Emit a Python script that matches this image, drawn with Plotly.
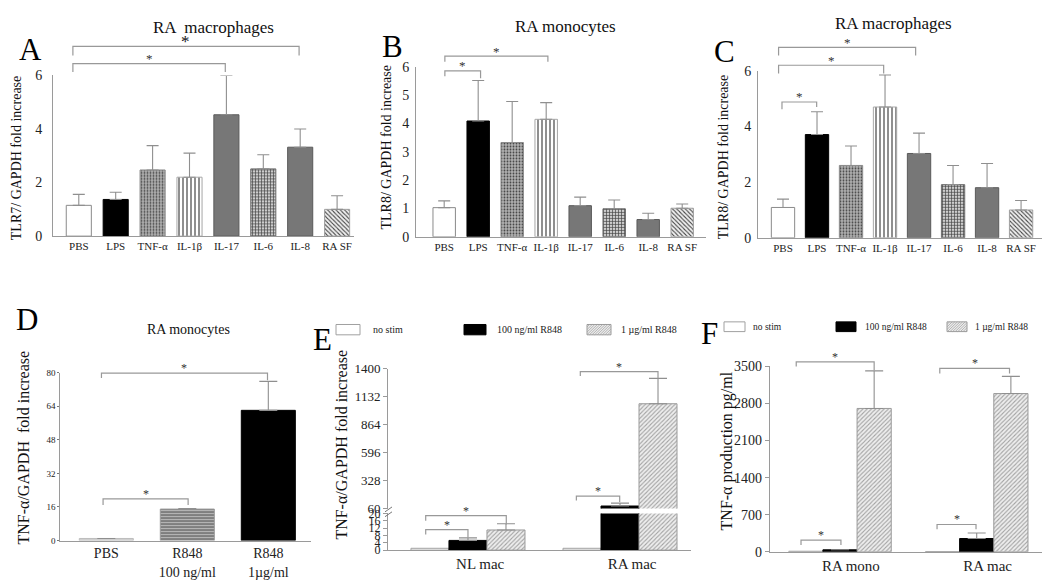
import plotly.graph_objects as go
import numpy as np

W, H = 1050, 581
SERIF = "Liberation Serif, Times New Roman, serif"
AX = "#9a9a9a"

# ---------------- data ----------------
stim_labels = ["PBS", "LPS", "TNF-α", "IL-1β", "IL-17", "IL-6", "IL-8", "RA SF"]
a_tlr7_mac = [1.15, 1.37, 2.47, 2.20, 4.53, 2.51, 3.32, 1.00]
a_tlr7_mac_err = [0.41, 0.27, 0.91, 0.90, 1.47, 0.53, 0.68, 0.51]
b_tlr8_mono = [1.03, 4.09, 3.33, 4.15, 1.10, 0.99, 0.61, 1.01]
b_tlr8_mono_err = [0.24, 1.43, 1.45, 0.59, 0.30, 0.31, 0.22, 0.15]
c_tlr8_mac = [1.09, 3.71, 2.60, 4.70, 3.03, 1.91, 1.80, 1.00]
c_tlr8_mac_err = [0.30, 0.82, 0.70, 1.15, 0.73, 0.69, 0.87, 0.34]

d_labels = ["PBS", "R848<br>100 ng/ml", "R848<br>1µg/ml"]
d_tnf_mono = [1.0, 15.0, 62.0]
d_tnf_mono_err = [0.0, 0.3, 13.8]

series_names = ["no stim", "100 ng/ml R848", "1 µg/ml R848"]
e_groups = ["NL mac", "RA mac"]
e_nostim = [1.0, 1.0]
e_r848_100 = [5.3, 85.0]
e_r848_100_err = [1.4, 28.0]
e_r848_1 = [11.0, 1066.0]
e_r848_1_err = [3.4, 243.0]

f_groups = ["RA mono", "RA mac"]
f_nostim = [10.0, 5.0]
f_r848_100 = [37.0, 250.0]
f_r848_100_err = [0.0, 104.0]
f_r848_1 = [2706.0, 2987.0]
f_r848_1_err = [709.0, 324.0]

a_ticks = [0, 2, 4, 6]
b_ticks = [0, 1, 2, 3, 4, 5, 6]
c_ticks = [0, 2, 4, 6]
d_ticks = [0, 16, 32, 48, 64, 80]
e_low_ticks = [0, 4, 8, 12, 16, 20]
e_up_ticks = [60, 328, 596, 864, 1132, 1400]
f_ticks = [0, 700, 1400, 2100, 2800, 3500]

# ---------------- panel geometry (pixels) ----------------
P = {
    "A": dict(px=(45, 346), py=(62, 227), xr=(-0.699, 7.458), yr=(0, 6)),
    "B": dict(px=(408, 698), py=(53.3, 227.7), xr=(-0.829, 7.70), yr=(0, 6)),
    "C": dict(px=(750, 1043), py=(57.3, 228.7), xr=(-0.735, 7.88), yr=(0, 6)),
    "D": dict(px=(52.3, 303), py=(367, 539.5), xr=(-0.568, 2.527), yr=(0, 80)),
    "EL": dict(px=(380, 683), py=(511.7, 549.3), xr=(-0.526, 1.467), yr=(0, 20)),
    "EU": dict(px=(380, 683), py=(363.3, 506.7), xr=(-0.526, 1.467), yr=(60, 1400)),
    "F": dict(px=(761.7, 1048), py=(360.7, 551), xr=(-0.514, 1.58), yr=(0, 3500)),
}


def to_paper(p, x, y):
    g = P[p]
    (L, R), (T, B) = g["px"], g["py"]
    x0, x1 = g["xr"]
    y0, y1 = g["yr"]
    fx = (L + (x - x0) / (x1 - x0) * (R - L)) / W
    fy = 1 - (B - (y - y0) / (y1 - y0) * (B - T)) / H
    return fx, fy


def dom_x(p):
    L, R = P[p]["px"]
    return [L / W, R / W]


def dom_y(p):
    T, B = P[p]["py"]
    return [1 - B / H, 1 - T / H]


fig = go.Figure()

# --------- A, B, C bars ---------
abc_color = ["white", "black", "#b0b0b0", "white", "#777777", "#cccccc", "#777777", "#f0f0f0"]
abc_shape = ["", "", ".", "|", "", "+", "", "\\"]
abc_fg = ["#999", "#000", "#969696", "#b4b4b4", "#777", "#707070", "#777", "#a4a4a4"]
abc_line = ["#8a8a8a", "#000", "#8a8a8a", "#a8a8a8", "#5a5a5a", "#6a6a6a", "#5a5a5a", "#a0a0a0"]
abc_psize = [4, 4, 3, 4, 4, 3, 4, 3]
abc_sol = [0.3, 0.3, 0.3, 0.3, 0.3, 0.4, 0.3, 0.35]

err_style = dict(type="data", symmetric=False, color="#8f8f8f", thickness=1.1, width=6)

for vals, errs, xa, ya, bw in [
    (a_tlr7_mac, a_tlr7_mac_err, "x", "y", 0.68),
    (b_tlr8_mono, b_tlr8_mono_err, "x2", "y2", 0.66),
    (c_tlr8_mac, c_tlr8_mac_err, "x3", "y3", 0.686),
]:
    fig.add_trace(go.Bar(
        x=list(range(len(stim_labels))), y=vals, width=bw, xaxis=xa, yaxis=ya,
        marker=dict(color=abc_color, line=dict(color=abc_line, width=1),
                    pattern=dict(shape=abc_shape, fgcolor=abc_fg, fgopacity=1,
                                 size=abc_psize, solidity=abc_sol, fillmode="overlay")),
        error_y=dict(array=errs, arrayminus=[0] * len(errs), **err_style),
        showlegend=False, hoverinfo="skip",
    ))

# --------- D bars ---------
fig.add_trace(go.Bar(
    x=list(range(len(d_labels))), y=d_tnf_mono, width=0.667, xaxis="x4", yaxis="y4",
    marker=dict(color=["#cfcfcf", "#b3b3b3", "black"],
                line=dict(color=["#bdbdbd", "#9a9a9a", "#000"], width=1),
                pattern=dict(shape=["", "-", ""], fgcolor=["#ccc", "#a2a2a2", "#000"],
                             fgopacity=1, size=3, solidity=0.3, fillmode="overlay")),
    error_y=dict(array=d_tnf_mono_err, arrayminus=[0, 0, 0], type="data", symmetric=False,
                 color="#8f8f8f", thickness=1.1, width=9),
    showlegend=False, hoverinfo="skip",
))

# --------- E and F grouped bars ---------
grp_color = ["white", "black", "#eeeeee"]
grp_line = ["#a0a0a0", "#000", "#9a9a9a"]
grp_shape = ["", "", "/"]
bar_w = 0.25


def grouped(groups, series, errs, xa, ya):
    for k, (vals, err) in enumerate(zip(series, errs)):
        fig.add_trace(go.Bar(
            x=list(range(len(groups))), y=vals, width=bar_w, offset=-1.5 * bar_w + k * bar_w,
            xaxis=xa, yaxis=ya,
            marker=dict(color=grp_color[k], line=dict(color=grp_line[k], width=1),
                        pattern=dict(shape=grp_shape[k], fgcolor="#a2a2a2", fgopacity=1,
                                     size=3, solidity=0.35, fillmode="overlay")),
            error_y=(dict(array=err, arrayminus=[0] * len(err), type="data", symmetric=False,
                          color="#8f8f8f", thickness=1.1, width=9) if err is not None else None),
            showlegend=False, hoverinfo="skip",
        ))


e_series = [e_nostim, e_r848_100, e_r848_1]
e_errs = [None, e_r848_100_err, e_r848_1_err]
grouped(e_groups, e_series, e_errs, "x5", "y5")
grouped(e_groups, e_series, e_errs, "x5", "y6")
f_series = [f_nostim, f_r848_100, f_r848_1]
f_errs = [None, f_r848_100_err, f_r848_1_err]
grouped(f_groups, f_series, f_errs, "x6", "y7")

# --------- axes ---------
base = dict(showgrid=False, zeroline=False, linecolor=AX, linewidth=1, fixedrange=True)


def xax(p, anchor, tickvals, ticktext, size, **kw):
    d = dict(base, domain=dom_x(p), range=list(P[p]["xr"]), anchor=anchor, showline=True,
             tickmode="array", tickvals=tickvals, ticktext=ticktext,
             tickfont=dict(family=SERIF, size=size, color="#222"))
    d.update(kw)
    return d


def yax(p, anchor, tickvals, size, **kw):
    d = dict(base, domain=dom_y(p), range=list(P[p]["yr"]), anchor=anchor, showline=True,
             tickmode="array", tickvals=tickvals,
             tickfont=dict(family=SERIF, size=size, color="#222"))
    d.update(kw)
    return d


n = len(stim_labels)
label_shift = 0.08
layout_axes = dict(
    xaxis=xax("A", "y", list(range(n)), stim_labels, 11, ticks=""),
    yaxis=yax("A", "x", a_ticks, 14, ticks="", ticklabelstandoff=7),
    xaxis2=xax("B", "y2", list(range(n)), stim_labels, 11, ticks=""),
    yaxis2=yax("B", "x2", b_ticks, 14, ticks="", ticklabelstandoff=3),
    xaxis3=xax("C", "y3", list(range(n)), stim_labels, 11, ticks=""),
    yaxis3=yax("C", "x3", c_ticks, 14, ticks="", ticklabelstandoff=3),
    xaxis4=xax("D", "y4", list(range(len(d_labels))), d_labels, 14, ticks=""),
    yaxis4=yax("D", "x4", d_ticks, 9, ticks="outside", ticklen=2, tickcolor="#777"),
    xaxis5=xax("EL", "y5", [i + label_shift for i in range(len(e_groups))], e_groups, 15,
               ticks=""),
    yaxis5=yax("EL", "x5", e_low_ticks, 12, ticks="outside", ticklen=4, tickcolor=AX),
    yaxis6=yax("EU", "x5", e_up_ticks, 13, ticks="outside", ticklen=4, tickcolor=AX),
    xaxis6=xax("F", "y7", [i + label_shift for i in range(len(f_groups))], f_groups, 15,
               ticks=""),
    yaxis7=yax("F", "x6", f_ticks, 14, ticks="outside", ticklen=4, tickcolor=AX,
               ticklabelstandoff=0),
)

shapes = []
annotations = []

# --------- significance brackets (data units) ---------
brackets = [
    ("A", -0.16, 5.97, 7.08, 6.74, 6.74, 17, "#111"),
    ("A", -0.16, 3.97, 6.44, 6.13, 6.13, 13, "#333"),
    ("B", 0.02, 3.05, 6.38, 6.18, 6.18, 13, "#333"),
    ("B", 0.02, 1.07, 5.86, 5.67, 5.60, 13, "#333"),
    ("C", -0.13, 3.90, 6.84, 6.55, 6.55, 13, "#333"),
    ("C", -0.13, 2.96, 6.20, 5.90, 5.90, 13, "#333"),
    ("C", -0.03, 0.99, 4.88, 4.62, 4.70, 13, "#333"),
    ("D", -0.06, 1.99, 79.7, 77.4, 76.3, 12, "#333"),
    ("D", -0.04, 1.01, 19.85, 16.9, 16.9, 12, "#333"),
    ("EL", -0.278, 0.252, 18.8, 16.0, 14.0, 12, "#333"),
    ("EL", -0.278, 0.0, 11.2, 8.5, 6.7, 12, "#333"),
    ("EU", 0.739, 1.25, 1375, 1331, 1307, 12, "#333"),
    ("EU", 0.713, 0.998, 179, 138, 123, 12, "#333"),
    ("F", -0.32, 0.25, 3586, 3500, 3421, 12, "#333"),
    ("F", -0.285, 0.007, 221, 129, 129, 12, "#333"),
    ("F", 0.73, 1.24, 3463, 3366, 3366, 12, "#333"),
    ("F", 0.71, 0.995, 515, 423, 423, 12, "#333"),
]
for p, x0, x1, yt, yl, yr, fs, sc in brackets:
    ax0, ayl = to_paper(p, x0, yl)
    _, ayt = to_paper(p, x0, yt)
    ax1, ayr = to_paper(p, x1, yr)
    shapes.append(dict(type="path", xref="paper", yref="paper",
                       path=f"M{ax0},{ayl} L{ax0},{ayt} L{ax1},{ayt} L{ax1},{ayr}",
                       line=dict(color="#999999", width=1.2)))
    annotations.append(dict(xref="paper", yref="paper", x=(ax0 + ax1) / 2, y=ayt,
                            text="*", showarrow=False, font=dict(family=SERIF, size=fs, color=sc),
                            xanchor="center", yanchor="middle", yshift=5))

# --------- axis break marks on E ---------
for py in (507.5, 512.5):
    shapes.append(dict(type="line", xref="paper", yref="paper",
                       x0=(P["EL"]["px"][0] - 3) / W, y0=1 - (py + 2.5) / H,
                       x1=(P["EL"]["px"][0] + 4) / W, y1=1 - (py - 2.5) / H,
                       line=dict(color="#777", width=1)))


# --------- helper for text in pixel coords ---------
def txt(x, y, s, size, color="#111", angle=0, xanchor="center", yanchor="middle"):
    annotations.append(dict(xref="paper", yref="paper", x=x / W, y=1 - y / H, text=s,
                            showarrow=False, textangle=angle, xanchor=xanchor, yanchor=yanchor,
                            font=dict(family=SERIF, size=size, color=color)))


# panel letters
for s, x, y in [("A", 22, 35), ("B", 384, 32), ("C", 716, 37), ("D", 19, 313),
                ("E", 314, 333), ("F", 701, 327)]:
    txt(x, y, s, 31, "#000")

# titles
txt(205, 13, "RA  macrophages", 17, "#111")
txt(557, 12, "RA monocytes", 17, "#111")
txt(885, 9, "RA macrophages", 17, "#111")
txt(180, 323, "RA monocytes", 14, "#111")

# y titles
txt(8, 147, "TLR7/ GAPDH fold increase", 14, "#111", angle=-90)
txt(378, 136, "TLR8/ GAPDH fold increase", 14, "#111", angle=-90)
txt(715, 146, "TLR8/ GAPDH fold increase", 14, "#111", angle=-90)
txt(16, 444, "TNF-α/GAPDH  fold increase", 16, "#111", angle=-90)
txt(334, 441, "TNF-α/GAPDH fold increase", 16, "#111", angle=-90)
txt(719, 448, "TNF-α production pg/ml", 16, "#111", angle=-90)


# --------- manual legends ---------
def hatch_box(x0, y0, x1, y1, step=2.6):
    shapes.append(dict(type="rect", xref="paper", yref="paper", x0=x0 / W, x1=x1 / W,
                       y0=1 - y1 / H, y1=1 - y0 / H, fillcolor="#ececec",
                       line=dict(color="#9a9a9a", width=1)))
    h = y1 - y0
    c = -h
    while c < (x1 - x0):
        sx, sy = x0 + c, y1
        ex, ey = x0 + c + h, y0
        if sx < x0:
            sy = y1 - (x0 - sx)
            sx = x0
        if ex > x1:
            ey = y0 + (ex - x1)
            ex = x1
        if ex > sx:
            shapes.append(dict(type="line", xref="paper", yref="paper", x0=sx / W, y0=1 - sy / H,
                               x1=ex / W, y1=1 - ey / H, line=dict(color="#a4a4a4", width=0.8)))
        c += step


def legend(items, y0, y1, fs):
    for (bx0, bx1, tx), name, k in zip(items, series_names, range(3)):
        if k == 2:
            hatch_box(bx0, y0, bx1, y1)
        else:
            shapes.append(dict(type="rect", xref="paper", yref="paper", x0=bx0 / W, x1=bx1 / W,
                               y0=1 - y1 / H, y1=1 - y0 / H, fillcolor=grp_color[k],
                               line=dict(color=grp_line[k], width=1)))
        txt(tx, (y0 + y1) / 2, name, fs, "#222", xanchor="left")


legend([(328, 352, 363), (456, 478, 487), (579, 603, 611)], 317.7, 328.3, 10)
legend([(716, 737, 743), (828, 848, 855), (939, 959, 965)], 315, 325, 9.5)

fig.update_layout(
    width=W, height=H, margin=dict(l=0, r=0, t=0, b=0),
    paper_bgcolor="white", plot_bgcolor="white", barmode="overlay",
    shapes=shapes, annotations=annotations, **layout_axes,
)

fig.write_html("out.html")
